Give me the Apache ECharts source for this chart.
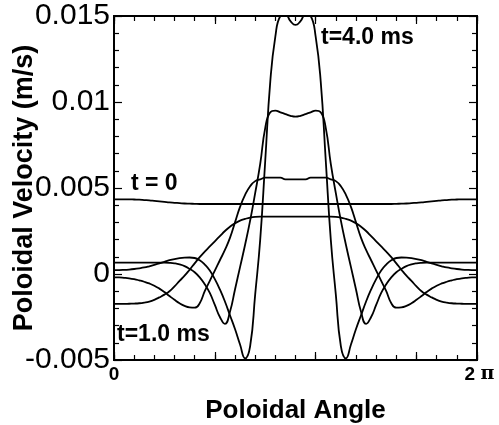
<!DOCTYPE html>
<html>
<head>
<meta charset="utf-8">
<script src="https://cdn.jsdelivr.net/npm/echarts@6/dist/echarts.min.js"></script>
<style>
  html, body { margin: 0; padding: 0; background: #fff; }
  #chart { width: 499px; height: 425px; }
</style>
</head>
<body>
<div id="chart"></div>
<script>
// poloidal angle in degrees, the axis is labelled 0 .. 2 pi
const angleDeg = [
  0, 5, 10, 15, 20, 25, 30, 35, 40, 45, 50, 55, 60, 65, 70, 75, 80, 85,
  90, 95, 100, 105, 110, 115, 120, 125, 130, 135, 140, 145, 150, 155, 160, 165, 170, 175,
  180, 185, 190, 195, 200, 205, 210, 215, 220, 225, 230, 235, 240, 245, 250, 255, 260, 265,
  270, 275, 280, 285, 290, 295, 300, 305, 310, 315, 320, 325, 330, 335, 340, 345, 350, 355, 360
]

// poloidal velocity (m/s)
const velT0 = [
  0.00434, 0.00434, 0.00434, 0.00434, 0.00433, 0.00432, 0.0043, 0.00428, 0.00425, 0.00422, 0.00419, 0.00416, 0.00414, 0.00412, 0.0041, 0.00409, 0.00408, 0.00407,
  0.00407, 0.00407, 0.00407, 0.00407, 0.00407, 0.00407, 0.00407, 0.00407, 0.00407, 0.00407, 0.00407, 0.00407, 0.00407, 0.00407, 0.00407, 0.00407, 0.00407, 0.00407,
  0.00407, 0.00407, 0.00407, 0.00407, 0.00407, 0.00407, 0.00407, 0.00407, 0.00407, 0.00407, 0.00407, 0.00407, 0.00407, 0.00407, 0.00407, 0.00407, 0.00407, 0.00407,
  0.00407, 0.00407, 0.00408, 0.00409, 0.0041, 0.00412, 0.00414, 0.00416, 0.00419, 0.00422, 0.00425, 0.00428, 0.0043, 0.00432, 0.00433, 0.00434, 0.00434, 0.00434, 0.00434
]
const velT1 = [
  -0.00174, -0.00174, -0.00174, -0.00173, -0.00172, -0.0017, -0.00166, -0.0016, -0.0015, -0.00136, -0.0012, -0.001, -0.00072, -0.0004, -0.0001, 0.00025, 0.00062, 0.00098,
  0.0013, 0.0016, 0.0019, 0.0022, 0.0025, 0.00275, 0.00295, 0.0031, 0.0032, 0.00328, 0.00332, 0.00333, 0.00333, 0.00333, 0.00333, 0.00333, 0.00333, 0.00333,
  0.00333, 0.00333, 0.00333, 0.00333, 0.00333, 0.00333, 0.00333, 0.00333, 0.00332, 0.00328, 0.0032, 0.0031, 0.00295, 0.00275, 0.0025, 0.0022, 0.0019, 0.0016,
  0.0013, 0.00098, 0.00062, 0.00025, -0.0001, -0.0004, -0.00072, -0.001, -0.0012, -0.00136, -0.0015, -0.0016, -0.00166, -0.0017, -0.00172, -0.00173, -0.00174, -0.00174, -0.00174
]
const velT2 = [
  -0.0002, -0.0002, -0.00022, -0.00025, -0.0003, -0.00037, -0.00045, -0.00055, -0.00068, -0.00085, -0.00105, -0.00128, -0.0015, -0.0017, -0.00185, -0.00194, -0.00196, -0.0017,
  -0.001, -0.0004, 0.0002, 0.0008, 0.0014, 0.0021, 0.003, 0.0039, 0.0046, 0.0051, 0.0054, 0.0055, 0.0056, 0.0056, 0.0056, 0.0056, 0.0055, 0.0055,
  0.0055, 0.0055, 0.0055, 0.0056, 0.0056, 0.0056, 0.0056, 0.0055, 0.0054, 0.0051, 0.0046, 0.0039, 0.003, 0.0021, 0.0014, 0.0008, 0.0002, -0.0004,
  -0.001, -0.0017, -0.00196, -0.00194, -0.00185, -0.0017, -0.0015, -0.00128, -0.00105, -0.00085, -0.00068, -0.00055, -0.00045, -0.00037, -0.0003, -0.00025, -0.00022, -0.0002, -0.0002
]
const velT3 = [
  0.00066, 0.00066, 0.00066, 0.00066, 0.00066, 0.00066, 0.00066, 0.00066, 0.00066, 0.00066, 0.00066, 0.00065, 0.00062, 0.00056, 0.00046, 0.0003, 0.0001, -0.0002,
  -0.0006, -0.0011, -0.0018, -0.0025, -0.0029, -0.0022, -0.0009, 0.0004, 0.0017, 0.0031, 0.0047, 0.0064, 0.0085, 0.0094, 0.0095, 0.0094, 0.0093, 0.0092,
  0.00915, 0.0092, 0.0093, 0.0094, 0.0095, 0.0094, 0.0085, 0.0064, 0.0047, 0.0031, 0.0017, 0.0004, -0.0009, -0.0022, -0.0029, -0.0025, -0.0018, -0.0011,
  -0.0006, -0.0002, 0.0001, 0.0003, 0.00046, 0.00056, 0.00062, 0.00065, 0.00066, 0.00066, 0.00066, 0.00066, 0.00066, 0.00066, 0.00066, 0.00066, 0.00066, 0.00066, 0.00066
]
const velT4 = [
  0.00023, 0.00023, 0.00024, 0.00026, 0.00029, 0.00033, 0.00038, 0.00045, 0.00053, 0.00062, 0.00071, 0.0008, 0.00087, 0.00092, 0.00095, 0.00096, 0.00093, 0.0008,
  0.00055, 0.0002, -0.0003, -0.0009, -0.0016, -0.0024, -0.0032, -0.0041, -0.0049, -0.0042, -0.0012, 0.002, 0.0066, 0.0112, 0.0138, 0.015, 0.0151, 0.0147,
  0.01448, 0.0147, 0.0151, 0.015, 0.0138, 0.0112, 0.0066, 0.002, -0.0012, -0.0042, -0.0049, -0.0041, -0.0032, -0.0024, -0.0016, -0.0009, -0.0003, 0.0002,
  0.00055, 0.0008, 0.00093, 0.00096, 0.00095, 0.00092, 0.00087, 0.0008, 0.00071, 0.00062, 0.00053, 0.00045, 0.00038, 0.00033, 0.00029, 0.00026, 0.00024, 0.00023, 0.00023
]

const curves = [velT0, velT1, velT2, velT3, velT4]

// curve labels
const notes = [
  {text: 't = 0', x: 131, y: 184},
  {text: 't=4.0 ms', x: 321, y: 38},
  {text: 't=1.0 ms', x: 117, y: 335}
]

const FONT = 'Liberation Sans'

const chart = echarts.init(document.getElementById('chart'), null, {renderer: 'canvas'})

const frame = {show: true, onZero: false, lineStyle: {color: '#000', width: 2}}
const noLabel = {show: false}

function xAxisAt(position, interval, tickLen, extra) {
  return Object.assign({
    type: 'value', min: 0, max: 360, interval: interval, position: position,
    axisLine: frame,
    axisTick: {show: true, inside: true, length: tickLen, lineStyle: {color: '#000', width: 1.2}},
    axisLabel: noLabel,
    splitLine: {show: false}
  }, extra || {})
}

function yAxisAt(position, extra) {
  return Object.assign({
    type: 'value', min: -0.005, max: 0.015, interval: 0.005, position: position,
    axisLine: frame,
    axisTick: {show: true, inside: true, length: 8, lineStyle: {color: '#000', width: 1.2}},
    minorTick: {show: true, splitNumber: 5, length: 5, lineStyle: {color: '#000', width: 1.2}},
    axisLabel: noLabel,
    splitLine: {show: false}
  }, extra || {})
}

chart.setOption({
  animation: false,
  backgroundColor: '#fff',
  grid: {left: 114, right: 22, top: 16, bottom: 65, outerBoundsMode: 'none', containLabel: false},
  xAxis: [
    xAxisAt('bottom', 20, 5, {
      name: 'Poloidal Angle',
      nameLocation: 'middle',
      nameGap: 38,
      nameMoveOverlap: false,
      nameTextStyle: {fontFamily: FONT, fontWeight: 'bold', fontSize: 26, color: '#000'},
      axisLabel: {
        show: true, margin: 5, color: '#000',
        fontFamily: FONT, fontWeight: 'bold', fontSize: 19,
        formatter: v => v === 0 ? '{b|0}' : (v === 360 ? '{s|}{b|2} {p|π}' : ''),
        rich: {
          s: {width: 5},
          b: {fontFamily: FONT, fontWeight: 'bold', fontSize: 19, color: '#000'},
          p: {fontFamily: 'DejaVu Serif', fontSize: 19, color: '#000'}
        }
      }
    }),
    xAxisAt('bottom', 100, 8),
    xAxisAt('top', 20, 5),
    xAxisAt('top', 100, 8)
  ],
  yAxis: [
    yAxisAt('left', {
      name: 'Poloidal Velocity (m/s)',
      nameLocation: 'middle',
      nameGap: 76,
      nameMoveOverlap: false,
      nameTextStyle: {fontFamily: FONT, fontWeight: 'bold', fontSize: 27, color: '#000'},
      axisLabel: {
        show: true, margin: 4, color: '#000',
        fontFamily: FONT, fontSize: 30,
        formatter: v => String(parseFloat(v.toFixed(3)))
      }
    }),
    yAxisAt('right')
  ],
  series: curves.map(vals => ({
    type: 'line',
    xAxisIndex: 0,
    yAxisIndex: 0,
    data: angleDeg.map((a, i) => [a, vals[i]]),
    smooth: true,
    showSymbol: false,
    clip: true,
    lineStyle: {color: '#000', width: 1.8}
  })),
  graphic: notes.map(n => ({
    type: 'text',
    x: n.x,
    y: n.y,
    style: {
      text: n.text,
      fill: '#000',
      font: 'bold 23px "Liberation Sans"',
      verticalAlign: 'middle'
    }
  }))
})
</script>
</body>
</html>
